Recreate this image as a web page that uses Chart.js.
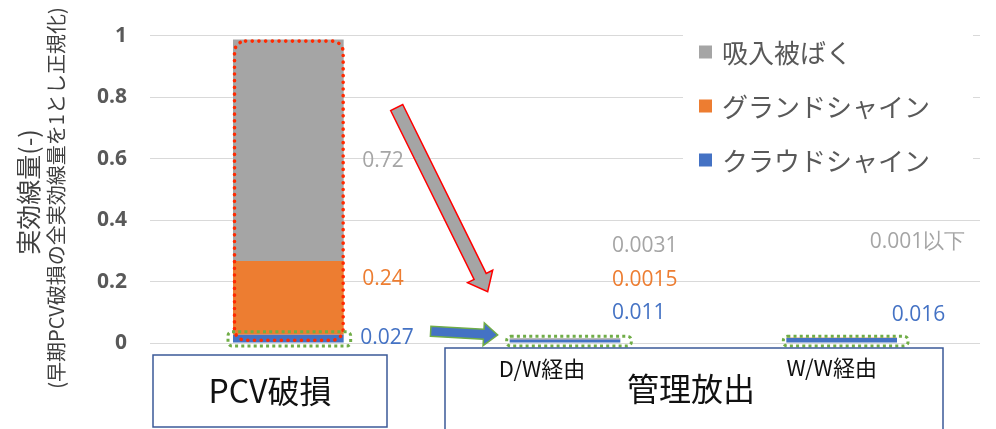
<!DOCTYPE html>
<html>
<head>
<meta charset="utf-8">
<script src="https://cdn.jsdelivr.net/npm/chart.js@4.4.1/dist/chart.umd.min.js"></script>
<style>
  html, body { margin: 0; padding: 0; background: #ffffff; }
  #wrap { width: 996px; height: 429px; }
</style>
</head>
<body>
<div id="wrap"><canvas id="c" width="996" height="429"></canvas></div>
<script>
// ---- data ----
const categories = ['PCV破損', 'D/W経由', 'W/W経由'];
const seriesNames = ['クラウドシャイン', 'グランドシャイン', '吸入被ばく'];
const cloudShine  = [0.027, 0.011, 0.016];
const groundShine = [0.24, 0.0015, 0.001];
const inhalation  = [0.72, 0.0031, 0.001];
const yTicks = [0, 0.2, 0.4, 0.6, 0.8, 1];
const yTitle = '実効線量(-)';
const ySubTitle = '(早期PCV破損の全実効線量を1とし正規化)';
const groupTitles = ['PCV破損', '管理放出'];

// ---- styling ----
const COLORS = ['#4472C4', '#ED7D31', '#A5A5A5'];
const TEXT_GRAY = '#595959';
const GRID = '#D9D9D9';
const NUM_FONT = '"Open Sans", "Liberation Sans", sans-serif';
const JP_FONT = '"Noto Sans CJK JP", "Noto Sans", sans-serif';

const seriesValues = [cloudShine, groundShine, inhalation];

// value labels: which series / category, vertical anchor (in axis units), x offset from bar centre
const valueLabels = [
  { s: 2, i: 0, yv: 0.593, dx: 74 },
  { s: 1, i: 0, yv: 0.208, dx: 74 },
  { s: 0, i: 0, yv: 0.016, dx: 72 },
  { s: 2, i: 1, yv: 0.317, dx: 47 },
  { s: 1, i: 1, yv: 0.205, dx: 47 },
  { s: 0, i: 1, yv: 0.099, dx: 47 },
  { s: 2, i: 2, yv: 0.330, dx: 28, suffix: '以下' },
  { s: 0, i: 2, yv: 0.090, dx: 50 }
];

function roundRectPath(ctx, x, y, w, h, r) {
  ctx.beginPath();
  ctx.roundRect(x, y, w, h, r);
}

function blockArrow(ctx, x0, y0, x1, y1, shaftW, headW, headLen, fill, stroke) {
  const dx = x1 - x0, dy = y1 - y0;
  const len = Math.hypot(dx, dy);
  const ux = dx / len, uy = dy / len;
  const nx = -uy, ny = ux;
  const bx = x1 - ux * headLen, by = y1 - uy * headLen;
  const s = shaftW / 2, h = headW / 2;
  ctx.beginPath();
  ctx.moveTo(x0 + nx * s, y0 + ny * s);
  ctx.lineTo(bx + nx * s, by + ny * s);
  ctx.lineTo(bx + nx * h, by + ny * h);
  ctx.lineTo(x1, y1);
  ctx.lineTo(bx - nx * h, by - ny * h);
  ctx.lineTo(bx - nx * s, by - ny * s);
  ctx.lineTo(x0 - nx * s, y0 - ny * s);
  ctx.closePath();
  ctx.fillStyle = fill;
  ctx.fill();
  ctx.lineWidth = 1.5;
  ctx.strokeStyle = stroke;
  ctx.stroke();
}

const decorations = {
  id: 'decorations',
  afterDraw(chart) {
    const ctx = chart.ctx;
    const y = chart.scales.y;
    const x = chart.scales.x;
    const bars = [0, 1, 2].map(s => chart.getDatasetMeta(s).data);

    ctx.save();

    // legend panel (covers the grid on the right)
    ctx.fillStyle = '#ffffff';
    ctx.fillRect(683, 22, 290, 168);
    const legendOrder = [2, 1, 0];
    ctx.font = '26px ' + JP_FONT;
    ctx.textBaseline = 'middle';
    ctx.textAlign = 'left';
    legendOrder.forEach((s, k) => {
      const cy = 52 + k * 54;
      ctx.fillStyle = COLORS[s];
      ctx.fillRect(699, cy - 6.5, 13, 13);
      ctx.fillStyle = TEXT_GRAY;
      ctx.fillText(seriesNames[s], 722, cy + 1);
    });

    // y-axis title (two lines, rotated)
    ctx.save();
    ctx.translate(28, 192);
    ctx.rotate(-Math.PI / 2);
    ctx.textAlign = 'center';
    ctx.textBaseline = 'middle';
    ctx.fillStyle = '#404040';
    ctx.font = '25px ' + JP_FONT;
    ctx.fillText(yTitle, 0, 0);
    ctx.restore();
    ctx.save();
    ctx.translate(56, 198);
    ctx.rotate(-Math.PI / 2);
    ctx.textAlign = 'center';
    ctx.textBaseline = 'middle';
    ctx.fillStyle = '#404040';
    ctx.font = '20px ' + JP_FONT;
    ctx.fillText(ySubTitle, 0, 0);
    ctx.restore();

    // red dotted frame around the upper part of the first stack
    const topBar = bars[2][0], midBar = bars[1][0];
    const half = topBar.width / 2;
    ctx.setLineDash([0.1, 6.6]);
    ctx.lineCap = 'round';
    ctx.lineWidth = 3.6;
    ctx.strokeStyle = '#FF2A00';
    roundRectPath(ctx, topBar.x - half + 1.5, topBar.y + 1.5, topBar.width - 2, midBar.base - topBar.y + 4, 11);
    ctx.stroke();

    // green dashed frames around the lowest segments
    ctx.setLineDash([3, 3.2]);
    ctx.lineCap = 'butt';
    ctx.lineWidth = 3;
    ctx.strokeStyle = '#70AD47';
    bars[0].forEach((b, i) => {
      const hw = b.width / 2;
      const top = i === 0 ? b.y - 3 : y.getPixelForValue(0.022);
      roundRectPath(ctx, b.x - hw - (i === 0 ? 5 : 3), top, b.width + (i === 0 ? 12 : 14), y.getPixelForValue(0) + 3 - top, 4);
      ctx.stroke();
    });
    ctx.setLineDash([]);

    // arrows from the first stack towards the managed-release bars
    const b0 = bars[0][0], b1 = bars[0][1];
    const r0 = b0.x + b0.width / 2, l1 = b1.x - b1.width / 2;
    blockArrow(ctx, r0 + 53, y.getPixelForValue(0.766), l1 - 22, y.getPixelForValue(0.167),
      13.5, 28, 17, '#A5A5A5', '#FF0000');
    blockArrow(ctx, r0 + 87, y.getPixelForValue(0.038), l1 - 12, y.getPixelForValue(0.026),
      10, 23, 14, '#4472C4', '#70AD47');

    // value labels
    ctx.font = '21px ' + NUM_FONT;
    ctx.textAlign = 'left';
    ctx.textBaseline = 'middle';
    valueLabels.forEach(l => {
      const v = seriesValues[l.s][l.i];
      ctx.fillStyle = COLORS[l.s];
      ctx.fillText(String(v) + (l.suffix || ''), x.getPixelForValue(l.i) + l.dx, y.getPixelForValue(l.yv));
    });

    // group boxes under the axis
    ctx.lineWidth = 1.5;
    ctx.strokeStyle = '#3B5998';
    ctx.strokeRect(153, 355, 234, 72);
    ctx.strokeRect(445, 348, 498, 90);
    ctx.fillStyle = '#111111';
    ctx.textAlign = 'center';
    ctx.textBaseline = 'middle';
    ctx.font = '32px ' + JP_FONT;
    ctx.fillText(groupTitles[0], 270, 391);
    ctx.fillText(groupTitles[1], 691, 389);
    ctx.font = '22px ' + JP_FONT;
    ctx.fillText(categories[1], x.getPixelForValue(1) - 23, 369);
    ctx.fillText(categories[2], x.getPixelForValue(2) - 10, 368);

    ctx.restore();
  }
};

new Chart(document.getElementById('c'), {
  type: 'bar',
  data: {
    labels: categories,
    datasets: seriesValues.map((vals, s) => ({
      label: seriesNames[s],
      data: vals,
      backgroundColor: COLORS[s],
      borderWidth: 0,
      barPercentage: 0.8,
      categoryPercentage: 0.5
    }))
  },
  options: {
    responsive: false,
    animation: false,
    layout: { padding: { left: 0, right: 16, top: 31, bottom: 0 } },
    plugins: { legend: { display: false }, tooltip: { enabled: false } },
    scales: {
      x: {
        stacked: true,
        ticks: { display: false },
        grid: { display: false },
        border: { display: false },
        afterFit(scale) { scale.height = 86; }
      },
      y: {
        stacked: true,
        min: 0,
        max: 1,
        afterBuildTicks(scale) { scale.ticks = yTicks.map(v => ({ value: v })); },
        ticks: {
          color: TEXT_GRAY,
          padding: 23,
          font: { family: NUM_FONT, size: 21, weight: 'bold' },
          callback: v => String(v)
        },
        grid: { color: GRID, lineWidth: 1, drawTicks: false },
        border: { display: false },
        afterFit(scale) { scale.width = 150; }
      }
    }
  },
  plugins: [decorations]
});
</script>
</body>
</html>
